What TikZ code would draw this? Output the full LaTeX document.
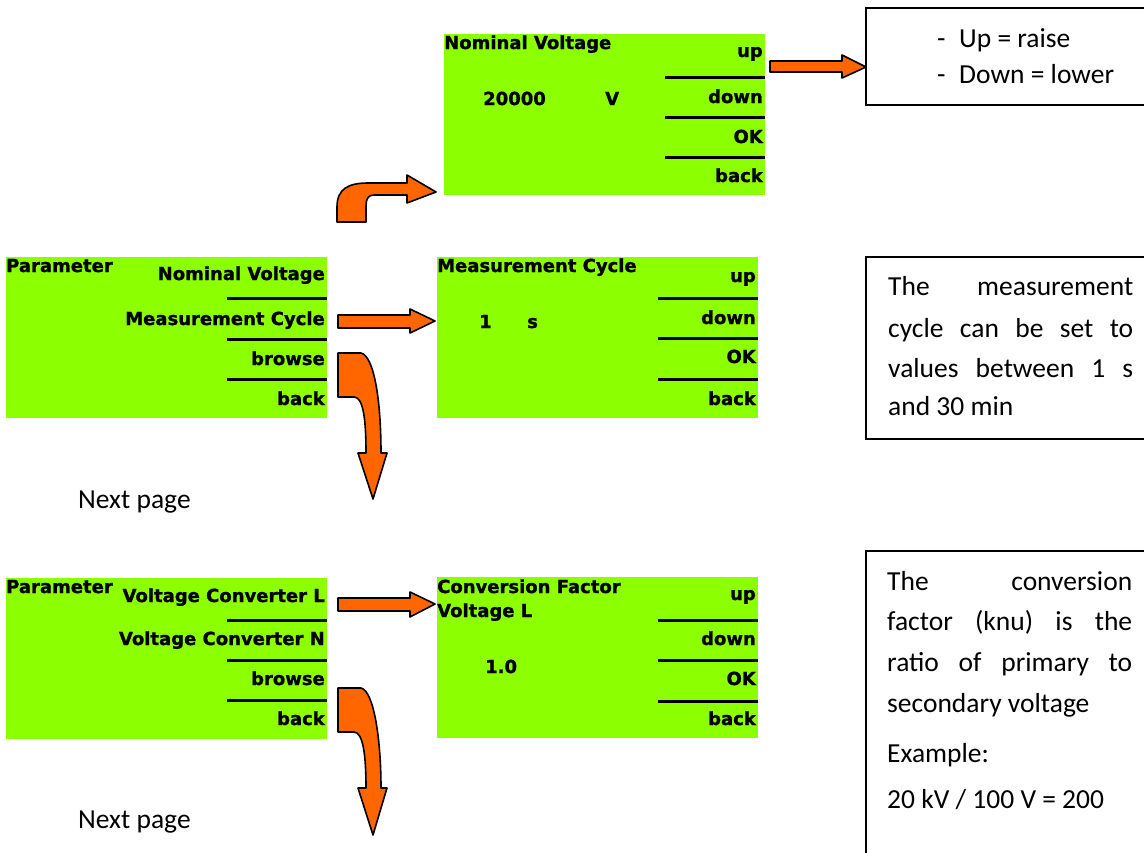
\documentclass[tikz,border=0pt]{standalone}
\usepackage{fontspec}
\setmainfont{Carlito}
\newfontfamily\lcdfont{DejaVu Sans Bold}[FakeBold=1.2]
\definecolor{lcdgreen}{RGB}{140,255,0}
\definecolor{arroworange}{RGB}{255,102,0}
\tikzset{
  screen/.style={fill=lcdgreen, draw=none, anchor=north west, inner sep=0pt,
                 minimum width=321pt, minimum height=161pt},
  lcd/.style={font=\lcdfont\fontsize{18}{18}\selectfont, inner sep=0pt},
  lcdL/.style={lcd, anchor=base west},
  lcdR/.style={lcd, anchor=base east},
  rule/.style={line width=3pt, black},
  blockarrow/.style={fill=arroworange, draw=black, line width=1.6pt, line join=round},
  note/.style={draw=black, line width=1.2pt},
  body/.style={font=\fontsize{27.5}{27.5}\selectfont, inner sep=0pt, anchor=base west},
}
\newcommand{\justline}[1]{\makebox[245pt][s]{#1}}
\begin{document}
\begin{tikzpicture}[x=1pt, y=-1pt]
\useasboundingbox (0,0) rectangle (1144,852);

% ---------- Nominal Voltage screen ----------
\node[screen] (nv) at (444,34) {};
\node[lcdL] (nvT) at (444,49) {Nominal Voltage};
\node[lcdL] (nvV) at (483,105) {20000};
\node[lcdL] (nvU) at (605,105) {V};
\node[lcdR] (nvUp) at (763,57) {up};
\node[lcdR] (nvDn) at (763,103) {down};
\node[lcdR] (nvOK) at (763,143) {OK};
\node[lcdR] (nvBk) at (763,182) {back};
\draw[rule] (665,77) -- (765,77) (665,117) -- (765,117) (665,157) -- (765,157);

% ---------- Parameter menu, page 1 ----------
\node[screen] (p1) at (6,257) {};
\node[lcdL] (p1T) at (6,272) {Parameter};
\node[lcdR] (p1a) at (325,280) {Nominal Voltage};
\node[lcdR] (p1b) at (325,325) {Measurement Cycle};
\node[lcdR] (p1c) at (325,365) {browse};
\node[lcdR] (p1d) at (325,405) {back};
\draw[rule] (227,298) -- (327,298) (227,339) -- (327,339) (227,379) -- (327,379);

% ---------- Measurement Cycle screen ----------
\node[screen] (mc) at (437,257) {};
\node[lcdL] (mcT) at (437,272) {Measurement Cycle};
\node[lcdL] (mcV) at (479,328) {1};
\node[lcdL] (mcU) at (527,328) {s};
\node[lcdR] (mcUp) at (756,282) {up};
\node[lcdR] (mcDn) at (756,324) {down};
\node[lcdR] (mcOK) at (756,363) {OK};
\node[lcdR] (mcBk) at (756,405) {back};
\draw[rule] (658,298) -- (758,298) (658,338) -- (758,338) (658,379) -- (758,379);

% ---------- Parameter menu, page 2 ----------
\node[screen] (p2) at (6,578) {};
\node[lcdL] (p2T) at (6,593) {Parameter};
\node[lcdR] (p2a) at (325,602) {Voltage Converter L};
\node[lcdR] (p2b) at (325,645) {Voltage Converter N};
\node[lcdR] (p2c) at (325,685) {browse};
\node[lcdR] (p2d) at (325,725) {back};
\draw[rule] (227,620) -- (327,620) (227,660) -- (327,660) (227,700) -- (327,700);

% ---------- Conversion Factor screen ----------
\node[screen] (cf) at (437,577) {};
\node[lcdL] (cfT1) at (437,593) {Conversion Factor};
\node[lcdL] (cfT2) at (437,617) {Voltage L};
\node[lcdL] (cfV) at (485,673) {1.0};
\node[lcdR] (cfUp) at (756,600) {up};
\node[lcdR] (cfDn) at (756,645) {down};
\node[lcdR] (cfOK) at (756,685) {OK};
\node[lcdR] (cfBk) at (756,725) {back};
\draw[rule] (658,620) -- (758,620) (658,660) -- (758,660) (658,701) -- (758,701);

% ---------- Notes ----------
\draw[note] (866,8) rectangle (1150,105);
\node[body] (n1a) at (937,47) {-};
\node[body] (n1b) at (959,47) {Up = raise};
\node[body] (n1c) at (937,83) {-};
\node[body] (n1d) at (959,83) {Down = lower};

\draw[note] (866,257) rectangle (1150,439);
\node[body] (n2a) at (888,295) {\justline{The measurement}};
\node[body] (n2b) at (888,337) {\justline{cycle can be set to}};
\node[body] (n2c) at (888,377) {\justline{values between 1 s}};
\node[body] (n2d) at (888,415) {and 30 min};

\draw[note] (866,551) rectangle (1150,870);
\node[body] (n3a) at (887,590) {\justline{The conversion}};
\node[body] (n3b) at (887,630) {\justline{factor (knu) is the}};
\node[body] (n3c) at (887,671) {\justline{ratio of primary to}};
\node[body] (n3d) at (887,712) {secondary voltage};
\node[body] (n3e) at (887,762) {Example:};
\node[body] (n3f) at (887,808) {20 kV / 100 V = 200};

\node[body] (np1) at (78,508) {Next page};
\node[body] (np2) at (78,828) {Next page};

% ---------- Block arrows ----------
% up -> explanation
\draw[blockarrow] (770,61) -- (842,61) -- (842,55) -- (866,67) -- (842,78) -- (842,72) -- (770,72) -- cycle;
% Measurement Cycle -> screen
\draw[blockarrow] (338,315) -- (410,315) -- (410,309) -- (435,321) -- (410,333) -- (410,328) -- (338,328) -- cycle;
% Voltage Converter L -> screen
\draw[blockarrow] (338,598) -- (410,598) -- (410,592) -- (435,604) -- (410,617) -- (410,611) -- (338,611) -- cycle;
% Nominal Voltage (bent arrow)
\draw[blockarrow] (337,222) -- (337,207) .. controls (337,189) and (348,183) .. (368,183)
  -- (407,183) -- (407,175) -- (436,192) -- (407,203) -- (407,195) -- (374,195)
  .. controls (368,195) and (366,199) .. (366,206) -- (366,222) -- cycle;
% browse, page 1
\draw[blockarrow] (338,353) -- (361,353) .. controls (374,356) and (381,400) .. (381,453)
  -- (387,453) -- (373,499) -- (358,453) -- (366,453)
  .. controls (366,418) and (363,397) .. (354,397) -- (338,397) -- cycle;
% browse, page 2
\draw[blockarrow] (338,688) -- (361,688) .. controls (374,691) and (381,740) .. (381,788)
  -- (387,788) -- (373,835) -- (358,788) -- (366,788)
  .. controls (366,755) and (363,732) .. (354,732) -- (338,732) -- cycle;
\end{tikzpicture}
\end{document}
